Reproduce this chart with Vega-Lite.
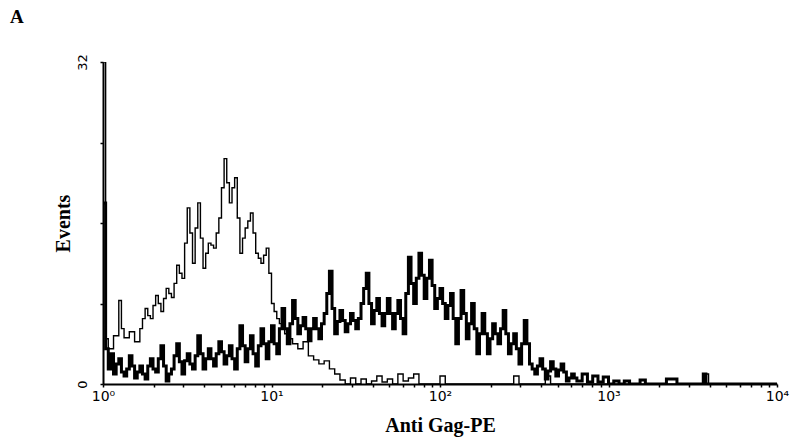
{
  "$schema": "https://vega.github.io/schema/vega-lite/v6.json",
  "autosize": {"type": "none"},
  "width": 674,
  "height": 322,
  "padding": {"left": 103, "top": 62, "right": 22, "bottom": 55},
  "background": "white",
  "title": {"text": "A", "anchor": "start", "frame": "group", "dx": -93, "dy": -23, "font": "Liberation Serif", "fontSize": 19, "fontWeight": "bold", "color": "black"},
  "config": {"view": {"stroke": null}},
  "datasets": {
    "hist": [
      {"channel": 0, "events": 32, "series": "control"},
      {"channel": 1, "events": 4.5, "series": "control"},
      {"channel": 2, "events": 3.5, "series": "control"},
      {"channel": 4, "events": 4.8, "series": "control"},
      {"channel": 6, "events": 8.3, "series": "control"},
      {"channel": 7, "events": 5.5, "series": "control"},
      {"channel": 8, "events": 4.6, "series": "control"},
      {"channel": 10, "events": 5.2, "series": "control"},
      {"channel": 12, "events": 4.2, "series": "control"},
      {"channel": 14, "events": 5.5, "series": "control"},
      {"channel": 15, "events": 6.5, "series": "control"},
      {"channel": 16, "events": 7.5, "series": "control"},
      {"channel": 17, "events": 6.8, "series": "control"},
      {"channel": 18, "events": 6.5, "series": "control"},
      {"channel": 19, "events": 7.8, "series": "control"},
      {"channel": 20, "events": 8.8, "series": "control"},
      {"channel": 21, "events": 8, "series": "control"},
      {"channel": 22, "events": 7.2, "series": "control"},
      {"channel": 23, "events": 8.5, "series": "control"},
      {"channel": 24, "events": 9.5, "series": "control"},
      {"channel": 25, "events": 9, "series": "control"},
      {"channel": 26, "events": 8.6, "series": "control"},
      {"channel": 27, "events": 10, "series": "control"},
      {"channel": 28, "events": 11.8, "series": "control"},
      {"channel": 29, "events": 11, "series": "control"},
      {"channel": 30, "events": 10.5, "series": "control"},
      {"channel": 31, "events": 14, "series": "control"},
      {"channel": 32, "events": 17.5, "series": "control"},
      {"channel": 33, "events": 15, "series": "control"},
      {"channel": 34, "events": 12, "series": "control"},
      {"channel": 35, "events": 15.5, "series": "control"},
      {"channel": 36, "events": 18, "series": "control"},
      {"channel": 37, "events": 14.5, "series": "control"},
      {"channel": 38, "events": 11.5, "series": "control"},
      {"channel": 39, "events": 13, "series": "control"},
      {"channel": 40, "events": 14, "series": "control"},
      {"channel": 41, "events": 13.8, "series": "control"},
      {"channel": 42, "events": 13.5, "series": "control"},
      {"channel": 43, "events": 15, "series": "control"},
      {"channel": 44, "events": 16.5, "series": "control"},
      {"channel": 45, "events": 19.5, "series": "control"},
      {"channel": 46, "events": 22.4, "series": "control"},
      {"channel": 47, "events": 20, "series": "control"},
      {"channel": 48, "events": 18, "series": "control"},
      {"channel": 49, "events": 19.5, "series": "control"},
      {"channel": 50, "events": 20.5, "series": "control"},
      {"channel": 51, "events": 16.5, "series": "control"},
      {"channel": 52, "events": 13, "series": "control"},
      {"channel": 53, "events": 14.5, "series": "control"},
      {"channel": 54, "events": 15.5, "series": "control"},
      {"channel": 55, "events": 16.2, "series": "control"},
      {"channel": 56, "events": 17, "series": "control"},
      {"channel": 57, "events": 15, "series": "control"},
      {"channel": 58, "events": 13, "series": "control"},
      {"channel": 59, "events": 12.5, "series": "control"},
      {"channel": 60, "events": 12, "series": "control"},
      {"channel": 61, "events": 12.8, "series": "control"},
      {"channel": 62, "events": 13.5, "series": "control"},
      {"channel": 63, "events": 11, "series": "control"},
      {"channel": 64, "events": 8, "series": "control"},
      {"channel": 65, "events": 7.2, "series": "control"},
      {"channel": 66, "events": 6.5, "series": "control"},
      {"channel": 67, "events": 6, "series": "control"},
      {"channel": 68, "events": 5.5, "series": "control"},
      {"channel": 69, "events": 5, "series": "control"},
      {"channel": 70, "events": 4.5, "series": "control"},
      {"channel": 72, "events": 4, "series": "control"},
      {"channel": 74, "events": 3.5, "series": "control"},
      {"channel": 76, "events": 4.2, "series": "control"},
      {"channel": 78, "events": 2.8, "series": "control"},
      {"channel": 80, "events": 2.4, "series": "control"},
      {"channel": 82, "events": 2, "series": "control"},
      {"channel": 84, "events": 2.3, "series": "control"},
      {"channel": 86, "events": 1.5, "series": "control"},
      {"channel": 88, "events": 1, "series": "control"},
      {"channel": 90, "events": 0.4, "series": "control"},
      {"channel": 92, "events": 0, "series": "control"},
      {"channel": 94, "events": 0.6, "series": "control"},
      {"channel": 96, "events": 0, "series": "control"},
      {"channel": 98, "events": 0.5, "series": "control"},
      {"channel": 100, "events": 0, "series": "control"},
      {"channel": 102, "events": 0.3, "series": "control"},
      {"channel": 104, "events": 0.8, "series": "control"},
      {"channel": 106, "events": 0.2, "series": "control"},
      {"channel": 108, "events": 0.5, "series": "control"},
      {"channel": 110, "events": 0, "series": "control"},
      {"channel": 112, "events": 1, "series": "control"},
      {"channel": 114, "events": 0.3, "series": "control"},
      {"channel": 116, "events": 0.6, "series": "control"},
      {"channel": 118, "events": 1, "series": "control"},
      {"channel": 120, "events": 0, "series": "control"},
      {"channel": 128, "events": 0.8, "series": "control"},
      {"channel": 130, "events": 0, "series": "control"},
      {"channel": 156, "events": 0.8, "series": "control"},
      {"channel": 158, "events": 0, "series": "control"},
      {"channel": 168, "events": 0.8, "series": "control"},
      {"channel": 170, "events": 0, "series": "control"},
      {"channel": 228, "events": 1, "series": "control"},
      {"channel": 230, "events": 0, "series": "control"},
      {"channel": 256, "events": 0, "series": "control"},
      {"channel": 0, "events": 18, "series": "gag"},
      {"channel": 1, "events": 3.5, "series": "gag"},
      {"channel": 2, "events": 1.5, "series": "gag"},
      {"channel": 3, "events": 3, "series": "gag"},
      {"channel": 4, "events": 1, "series": "gag"},
      {"channel": 5, "events": 2, "series": "gag"},
      {"channel": 6, "events": 2.5, "series": "gag"},
      {"channel": 7, "events": 1.2, "series": "gag"},
      {"channel": 8, "events": 0.8, "series": "gag"},
      {"channel": 9, "events": 1.5, "series": "gag"},
      {"channel": 10, "events": 2.8, "series": "gag"},
      {"channel": 11, "events": 1.8, "series": "gag"},
      {"channel": 12, "events": 0.6, "series": "gag"},
      {"channel": 13, "events": 1.2, "series": "gag"},
      {"channel": 14, "events": 1.8, "series": "gag"},
      {"channel": 15, "events": 1, "series": "gag"},
      {"channel": 16, "events": 0.5, "series": "gag"},
      {"channel": 17, "events": 1.8, "series": "gag"},
      {"channel": 18, "events": 2.5, "series": "gag"},
      {"channel": 19, "events": 1.5, "series": "gag"},
      {"channel": 20, "events": 1.2, "series": "gag"},
      {"channel": 21, "events": 2.5, "series": "gag"},
      {"channel": 22, "events": 3.8, "series": "gag"},
      {"channel": 23, "events": 1.8, "series": "gag"},
      {"channel": 24, "events": 0.3, "series": "gag"},
      {"channel": 25, "events": 1, "series": "gag"},
      {"channel": 26, "events": 1.5, "series": "gag"},
      {"channel": 27, "events": 2.8, "series": "gag"},
      {"channel": 28, "events": 4, "series": "gag"},
      {"channel": 29, "events": 2.2, "series": "gag"},
      {"channel": 30, "events": 1, "series": "gag"},
      {"channel": 31, "events": 2.3, "series": "gag"},
      {"channel": 32, "events": 3, "series": "gag"},
      {"channel": 33, "events": 2, "series": "gag"},
      {"channel": 34, "events": 1.5, "series": "gag"},
      {"channel": 35, "events": 2.8, "series": "gag"},
      {"channel": 36, "events": 4.8, "series": "gag"},
      {"channel": 37, "events": 3, "series": "gag"},
      {"channel": 38, "events": 1.5, "series": "gag"},
      {"channel": 39, "events": 2.5, "series": "gag"},
      {"channel": 40, "events": 3.5, "series": "gag"},
      {"channel": 41, "events": 2.5, "series": "gag"},
      {"channel": 42, "events": 1.8, "series": "gag"},
      {"channel": 43, "events": 3, "series": "gag"},
      {"channel": 44, "events": 4.2, "series": "gag"},
      {"channel": 45, "events": 3.2, "series": "gag"},
      {"channel": 46, "events": 2, "series": "gag"},
      {"channel": 47, "events": 2.8, "series": "gag"},
      {"channel": 48, "events": 3.8, "series": "gag"},
      {"channel": 49, "events": 2.5, "series": "gag"},
      {"channel": 50, "events": 1.5, "series": "gag"},
      {"channel": 51, "events": 3.5, "series": "gag"},
      {"channel": 52, "events": 5.8, "series": "gag"},
      {"channel": 53, "events": 3.8, "series": "gag"},
      {"channel": 54, "events": 2.2, "series": "gag"},
      {"channel": 55, "events": 3.5, "series": "gag"},
      {"channel": 56, "events": 4.8, "series": "gag"},
      {"channel": 57, "events": 3, "series": "gag"},
      {"channel": 58, "events": 1.8, "series": "gag"},
      {"channel": 59, "events": 3.8, "series": "gag"},
      {"channel": 60, "events": 5.5, "series": "gag"},
      {"channel": 61, "events": 4, "series": "gag"},
      {"channel": 62, "events": 2.5, "series": "gag"},
      {"channel": 63, "events": 4.2, "series": "gag"},
      {"channel": 64, "events": 5.8, "series": "gag"},
      {"channel": 65, "events": 4, "series": "gag"},
      {"channel": 66, "events": 3, "series": "gag"},
      {"channel": 67, "events": 5.5, "series": "gag"},
      {"channel": 68, "events": 7.5, "series": "gag"},
      {"channel": 69, "events": 5.5, "series": "gag"},
      {"channel": 70, "events": 4, "series": "gag"},
      {"channel": 71, "events": 6, "series": "gag"},
      {"channel": 72, "events": 8.3, "series": "gag"},
      {"channel": 73, "events": 6.5, "series": "gag"},
      {"channel": 74, "events": 5, "series": "gag"},
      {"channel": 75, "events": 5.8, "series": "gag"},
      {"channel": 76, "events": 6.6, "series": "gag"},
      {"channel": 77, "events": 5.5, "series": "gag"},
      {"channel": 78, "events": 4.3, "series": "gag"},
      {"channel": 79, "events": 5.5, "series": "gag"},
      {"channel": 80, "events": 6.5, "series": "gag"},
      {"channel": 81, "events": 5.5, "series": "gag"},
      {"channel": 82, "events": 4.5, "series": "gag"},
      {"channel": 83, "events": 6, "series": "gag"},
      {"channel": 84, "events": 7, "series": "gag"},
      {"channel": 85, "events": 9, "series": "gag"},
      {"channel": 86, "events": 11.2, "series": "gag"},
      {"channel": 87, "events": 7.5, "series": "gag"},
      {"channel": 88, "events": 5, "series": "gag"},
      {"channel": 89, "events": 6.2, "series": "gag"},
      {"channel": 90, "events": 7.3, "series": "gag"},
      {"channel": 91, "events": 6.3, "series": "gag"},
      {"channel": 92, "events": 5.2, "series": "gag"},
      {"channel": 93, "events": 6, "series": "gag"},
      {"channel": 94, "events": 7, "series": "gag"},
      {"channel": 95, "events": 6.3, "series": "gag"},
      {"channel": 96, "events": 5.5, "series": "gag"},
      {"channel": 97, "events": 6.5, "series": "gag"},
      {"channel": 98, "events": 8, "series": "gag"},
      {"channel": 99, "events": 9.5, "series": "gag"},
      {"channel": 100, "events": 11, "series": "gag"},
      {"channel": 101, "events": 8, "series": "gag"},
      {"channel": 102, "events": 6, "series": "gag"},
      {"channel": 103, "events": 7.3, "series": "gag"},
      {"channel": 104, "events": 8.5, "series": "gag"},
      {"channel": 105, "events": 7, "series": "gag"},
      {"channel": 106, "events": 5.8, "series": "gag"},
      {"channel": 107, "events": 7, "series": "gag"},
      {"channel": 108, "events": 8.5, "series": "gag"},
      {"channel": 109, "events": 7, "series": "gag"},
      {"channel": 110, "events": 5.5, "series": "gag"},
      {"channel": 111, "events": 7, "series": "gag"},
      {"channel": 112, "events": 8.3, "series": "gag"},
      {"channel": 113, "events": 6.5, "series": "gag"},
      {"channel": 114, "events": 5, "series": "gag"},
      {"channel": 115, "events": 9, "series": "gag"},
      {"channel": 116, "events": 12.6, "series": "gag"},
      {"channel": 117, "events": 10, "series": "gag"},
      {"channel": 118, "events": 8, "series": "gag"},
      {"channel": 119, "events": 10.5, "series": "gag"},
      {"channel": 120, "events": 13, "series": "gag"},
      {"channel": 121, "events": 10.8, "series": "gag"},
      {"channel": 122, "events": 8.5, "series": "gag"},
      {"channel": 123, "events": 10.5, "series": "gag"},
      {"channel": 124, "events": 12.3, "series": "gag"},
      {"channel": 125, "events": 9.8, "series": "gag"},
      {"channel": 126, "events": 7.5, "series": "gag"},
      {"channel": 127, "events": 8.5, "series": "gag"},
      {"channel": 128, "events": 9.5, "series": "gag"},
      {"channel": 129, "events": 8, "series": "gag"},
      {"channel": 130, "events": 6.5, "series": "gag"},
      {"channel": 131, "events": 7.8, "series": "gag"},
      {"channel": 132, "events": 9, "series": "gag"},
      {"channel": 133, "events": 6.5, "series": "gag"},
      {"channel": 134, "events": 4, "series": "gag"},
      {"channel": 135, "events": 6.5, "series": "gag"},
      {"channel": 136, "events": 9.3, "series": "gag"},
      {"channel": 137, "events": 7, "series": "gag"},
      {"channel": 138, "events": 4.5, "series": "gag"},
      {"channel": 139, "events": 6, "series": "gag"},
      {"channel": 140, "events": 8, "series": "gag"},
      {"channel": 141, "events": 5.5, "series": "gag"},
      {"channel": 142, "events": 3, "series": "gag"},
      {"channel": 143, "events": 5, "series": "gag"},
      {"channel": 144, "events": 7, "series": "gag"},
      {"channel": 145, "events": 5, "series": "gag"},
      {"channel": 146, "events": 3, "series": "gag"},
      {"channel": 147, "events": 4.5, "series": "gag"},
      {"channel": 148, "events": 6, "series": "gag"},
      {"channel": 149, "events": 5, "series": "gag"},
      {"channel": 150, "events": 4, "series": "gag"},
      {"channel": 151, "events": 5.5, "series": "gag"},
      {"channel": 152, "events": 7.3, "series": "gag"},
      {"channel": 153, "events": 5, "series": "gag"},
      {"channel": 154, "events": 3, "series": "gag"},
      {"channel": 155, "events": 4, "series": "gag"},
      {"channel": 156, "events": 5, "series": "gag"},
      {"channel": 157, "events": 3.5, "series": "gag"},
      {"channel": 158, "events": 2, "series": "gag"},
      {"channel": 159, "events": 4, "series": "gag"},
      {"channel": 160, "events": 6.3, "series": "gag"},
      {"channel": 161, "events": 4, "series": "gag"},
      {"channel": 162, "events": 2, "series": "gag"},
      {"channel": 163, "events": 1.5, "series": "gag"},
      {"channel": 164, "events": 1, "series": "gag"},
      {"channel": 165, "events": 1.8, "series": "gag"},
      {"channel": 166, "events": 2.5, "series": "gag"},
      {"channel": 167, "events": 1.5, "series": "gag"},
      {"channel": 168, "events": 0.5, "series": "gag"},
      {"channel": 169, "events": 1.3, "series": "gag"},
      {"channel": 170, "events": 2.2, "series": "gag"},
      {"channel": 171, "events": 1.5, "series": "gag"},
      {"channel": 172, "events": 0.8, "series": "gag"},
      {"channel": 173, "events": 1.4, "series": "gag"},
      {"channel": 174, "events": 2, "series": "gag"},
      {"channel": 175, "events": 1.2, "series": "gag"},
      {"channel": 176, "events": 0.3, "series": "gag"},
      {"channel": 177, "events": 0.6, "series": "gag"},
      {"channel": 178, "events": 1, "series": "gag"},
      {"channel": 179, "events": 0.6, "series": "gag"},
      {"channel": 180, "events": 0.3, "series": "gag"},
      {"channel": 182, "events": 1, "series": "gag"},
      {"channel": 184, "events": 0.2, "series": "gag"},
      {"channel": 186, "events": 0.8, "series": "gag"},
      {"channel": 188, "events": 0.2, "series": "gag"},
      {"channel": 190, "events": 0.7, "series": "gag"},
      {"channel": 192, "events": 0, "series": "gag"},
      {"channel": 194, "events": 0.3, "series": "gag"},
      {"channel": 196, "events": 0, "series": "gag"},
      {"channel": 198, "events": 0.3, "series": "gag"},
      {"channel": 200, "events": 0, "series": "gag"},
      {"channel": 204, "events": 0.4, "series": "gag"},
      {"channel": 206, "events": 0, "series": "gag"},
      {"channel": 214, "events": 0.5, "series": "gag"},
      {"channel": 218, "events": 0, "series": "gag"},
      {"channel": 228, "events": 1, "series": "gag"},
      {"channel": 229, "events": 0, "series": "gag"},
      {"channel": 256, "events": 0, "series": "gag"}
    ]
  },
  "data": {"name": "hist"},
  "mark": {"type": "line", "interpolate": "step-after", "color": "black", "strokeJoin": "miter", "strokeCap": "butt", "clip": true},
  "encoding": {
    "x": {
      "field": "channel", "type": "quantitative",
      "scale": {"domain": [0, 256], "nice": false, "zero": false},
      "axis": {
        "title": "Anti Gag-PE",
        "titleFont": "Liberation Serif", "titleFontSize": 20, "titleFontWeight": "bold", "titleColor": "black", "titlePadding": 12,
        "values": [0, 19.27, 30.54, 38.53, 44.73, 49.8, 54.09, 57.8, 61.07, 64, 83.27, 94.54, 102.53, 108.73, 113.8, 118.09, 121.8, 125.07, 128, 147.27, 158.54, 166.53, 172.73, 177.8, 182.09, 185.8, 189.07, 192, 211.27, 222.54, 230.53, 236.73, 241.8, 246.09, 249.8, 253.07, 256],
        "labelExpr": "datum.value == 0 ? '10⁰' : datum.value == 64 ? '10¹' : datum.value == 128 ? '10²' : datum.value == 192 ? '10³' : datum.value == 256 ? '10⁴' : ''",
        "labelOverlap": false, "labelBound": false, "labelFlush": false,
        "labelFont": "DejaVu Sans", "labelFontSize": 14, "labelColor": "black", "labelPadding": 2,
        "tickSize": 3, "tickWidth": 1.5, "tickColor": "black",
        "domainColor": "black", "domainWidth": 2, "grid": false
      }
    },
    "y": {
      "field": "events", "type": "quantitative",
      "scale": {"domain": [0, 32], "nice": false},
      "axis": {
        "title": "Events",
        "titleFont": "Liberation Serif", "titleFontSize": 20, "titleFontWeight": "bold", "titleColor": "black", "titlePadding": 3,
        "values": [0, 8, 16, 24, 32],
        "labelExpr": "datum.value == 0 ? '0' : datum.value == 32 ? '32' : ''",
        "labelAngle": -90, "labelAlign": "center", "labelBaseline": "bottom",
        "labelOverlap": false, "labelBound": false, "labelFlush": false,
        "labelFont": "DejaVu Sans", "labelFontSize": 13, "labelColor": "black", "labelPadding": 11,
        "tickSize": 3, "tickWidth": 1.5, "tickColor": "black",
        "domainColor": "black", "domainWidth": 2, "grid": false
      }
    },
    "detail": {"field": "series", "type": "nominal"},
    "strokeWidth": {"field": "series", "type": "nominal", "scale": {"domain": ["control", "gag"], "range": [1.4, 3]}, "legend": null}
  }
}
